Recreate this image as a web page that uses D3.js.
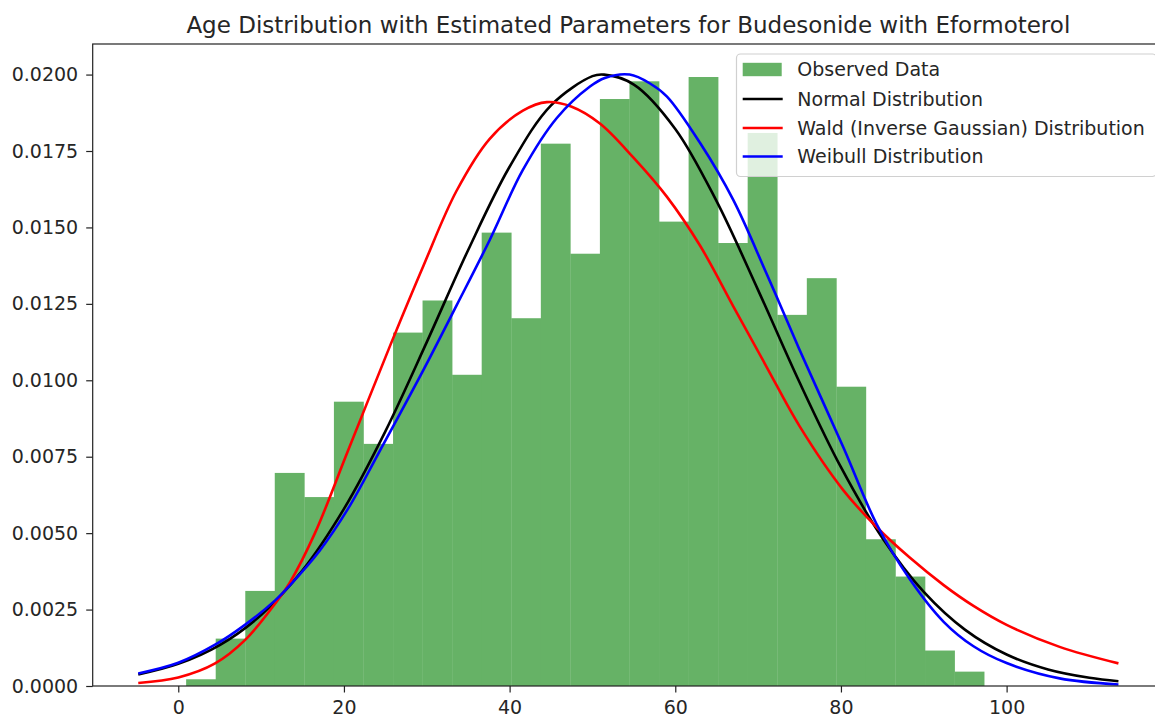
<!DOCTYPE html>
<html>
<head>
<meta charset="utf-8">
<script src="https://cdn.jsdelivr.net/npm/d3@7"></script>
<style>
  html, body { margin: 0; padding: 0; background: #ffffff; }
  svg { display: block; }
  text { font-family: "DejaVu Sans", sans-serif; fill: #262626; }
</style>
</head>
<body>
<svg id="chart" width="1155" height="717"></svg>
<script>
// Histogram of patient ages (density), 27 equal-width bins
const binEdges = [0.95, 4.52, 8.09, 11.65, 15.22, 18.79, 22.36, 25.93, 29.49, 33.06,
  36.63, 40.20, 43.77, 47.33, 50.90, 54.47, 58.04, 61.61, 65.17, 68.74,
  72.31, 75.88, 79.45, 83.01, 86.58, 90.15, 93.72, 97.29];
const binDensity = [0.00022, 0.00155, 0.00311, 0.00697, 0.00618, 0.00930, 0.00792,
  0.01156, 0.01261, 0.01018, 0.01483, 0.01203, 0.01774, 0.01414, 0.01920,
  0.01978, 0.01519, 0.01992, 0.01449, 0.01809, 0.01214, 0.01334, 0.00979,
  0.00480, 0.00358, 0.00116, 0.00047];

// Fitted density curves
const normalX = [-4.83, 0, 5, 10, 15, 20, 25, 30, 35, 40, 45, 50, 51.4, 55, 60, 65, 70, 75, 80, 85, 90, 95, 100, 105, 110, 113.5];
const normalY = [0.000377, 0.000724, 0.001338, 0.002322, 0.003785, 0.005795, 0.008331, 0.011249,
  0.014263, 0.016984, 0.018994, 0.019948, 0.019997, 0.019674, 0.018223, 0.015851, 0.012950,
  0.009934, 0.007156, 0.004842, 0.003077, 0.001836, 0.001029, 0.000541, 0.000268, 0.000157];

const waldX = [-4.83, 0, 4.45, 8.05, 11.7, 13.5, 16.5, 20.5, 25.6, 29.6, 33.6, 37.6, 41.6, 44.5,
  47.5, 50.9, 54.9, 59.0, 63.0, 67.0, 71.0, 75.0, 80.3, 84.3, 88.3, 92.4, 96.0, 100, 106.4, 113.5];
const waldY = [0.00010, 0.00028, 0.00074, 0.00150, 0.00270, 0.00340, 0.00500, 0.00770, 0.01115,
  0.01375, 0.01620, 0.01790, 0.01882, 0.01910, 0.01895, 0.01840, 0.01730, 0.01600, 0.01440,
  0.01242, 0.01045, 0.00850, 0.00640, 0.00520, 0.00420, 0.00330, 0.00262, 0.00200, 0.00128, 0.00074];

const weibullX = [-4.83, 0, 4.45, 8.05, 11.7, 13.5, 17, 20.5, 24.35, 29.6, 33.6, 37.6, 41.6, 45.7,
  49.7, 51.5, 54.5, 57, 59.0, 63.0, 67.0, 71.0, 75.0, 80.3, 84.3, 88.3, 92.4, 96, 100, 106.4, 113.5];
const weibullY = [0.00041, 0.00076, 0.00135, 0.00200, 0.00280, 0.00330, 0.00440, 0.00580, 0.00770,
  0.01034, 0.01245, 0.01459, 0.01688, 0.01858, 0.01961, 0.01989, 0.02000, 0.01970, 0.01928,
  0.01776, 0.01590, 0.01350, 0.01100, 0.00780, 0.00530, 0.00350, 0.00210, 0.00130, 0.00075,
  0.00025, 0.00005];

const xTicks = [0, 20, 40, 60, 80, 100];
const yTicks = [0, 0.0025, 0.005, 0.0075, 0.01, 0.0125, 0.015, 0.0175, 0.02];

const titleText = "Age Distribution with Estimated Parameters for Budesonide with Eformoterol";
const legendLabels = ["Observed Data", "Normal Distribution", "Wald (Inverse Gaussian) Distribution", "Weibull Distribution"];

const barColor = "#66b266";
const lineColors = { normal: "#000000", wald: "#ff0000", weibull: "#0000ff" };

const svg = d3.select("#chart");
const plot = { left: 92.7, right: 1164, top: 44, bottom: 686 };

const x = d3.scaleLinear().domain([-10.33, 119.0]).range([plot.left, plot.right]);
const y = d3.scaleLinear().domain([0, 0.0210]).range([plot.bottom, plot.top]);

// Bars
const bins = binDensity.map((d, i) => ({ x0: binEdges[i], x1: binEdges[i + 1], v: d }));
svg.append("g").selectAll("rect").data(bins).join("rect")
  .attr("x", d => x(d.x0))
  .attr("width", d => x(d.x1) - x(d.x0) + 0.3)
  .attr("y", d => y(d.v))
  .attr("height", d => y(0) - y(d.v))
  .attr("fill", barColor);

// Curves
const line = d3.line().x(d => x(d[0])).y(d => y(d[1])).curve(d3.curveCatmullRom.alpha(0.5));
const curves = [
  { xs: normalX, ys: normalY, color: lineColors.normal },
  { xs: waldX, ys: waldY, color: lineColors.wald },
  { xs: weibullX, ys: weibullY, color: lineColors.weibull }
];
curves.forEach(c => {
  svg.append("path")
    .datum(c.xs.map((v, i) => [v, c.ys[i]]))
    .attr("d", line)
    .attr("fill", "none")
    .attr("stroke", c.color)
    .attr("stroke-width", 2.6)
    .attr("stroke-linejoin", "round");
});

// Axes
const xAxis = svg.append("g")
  .attr("transform", `translate(0,${plot.bottom})`)
  .call(d3.axisBottom(x).tickValues(xTicks).tickSize(6.5).tickPadding(8).tickFormat(d3.format("d")));
const yAxis = svg.append("g")
  .attr("transform", `translate(${plot.left},0)`)
  .call(d3.axisLeft(y).tickValues(yTicks).tickSize(6.5).tickPadding(8).tickFormat(d3.format(".4f")));
[xAxis, yAxis].forEach(g => {
  g.select(".domain").remove();
  g.selectAll(".tick line").attr("stroke", "#222").attr("stroke-width", 1.2);
  g.selectAll(".tick text").style("font-size", "19px").style("font-family", "DejaVu Sans").attr("fill", "#262626");
});

// Frame
svg.append("rect")
  .attr("x", plot.left).attr("y", plot.top)
  .attr("width", plot.right - plot.left).attr("height", plot.bottom - plot.top)
  .attr("fill", "none").attr("stroke", "#222").attr("stroke-width", 1.2);

// Title
svg.append("text")
  .attr("x", (plot.left + plot.right) / 2)
  .attr("y", 33)
  .attr("text-anchor", "middle")
  .style("font-size", "23px")
  .text(titleText);

// Legend
const legend = svg.append("g");
legend.append("rect")
  .attr("x", 736.5).attr("y", 54).attr("width", 420).attr("height", 122.5)
  .attr("rx", 4).attr("fill", "#ffffff").attr("fill-opacity", 0.8)
  .attr("stroke", "#d0d0d0").attr("stroke-width", 1.2);
const rowY = [69.5, 99, 128, 156.5];
legend.append("rect")
  .attr("x", 742.7).attr("y", rowY[0] - 6.7).attr("width", 39).attr("height", 13.4)
  .attr("fill", barColor);
[lineColors.normal, lineColors.wald, lineColors.weibull].forEach((c, i) => {
  legend.append("line")
    .attr("x1", 742.7).attr("x2", 782.7)
    .attr("y1", rowY[i + 1]).attr("y2", rowY[i + 1])
    .attr("stroke", c).attr("stroke-width", 2.6);
});
legendLabels.forEach((t, i) => {
  legend.append("text")
    .attr("x", 797.3).attr("y", rowY[i])
    .attr("dy", "0.36em")
    .style("font-size", "19px")
    .text(t);
});
</script>
</body>
</html>
